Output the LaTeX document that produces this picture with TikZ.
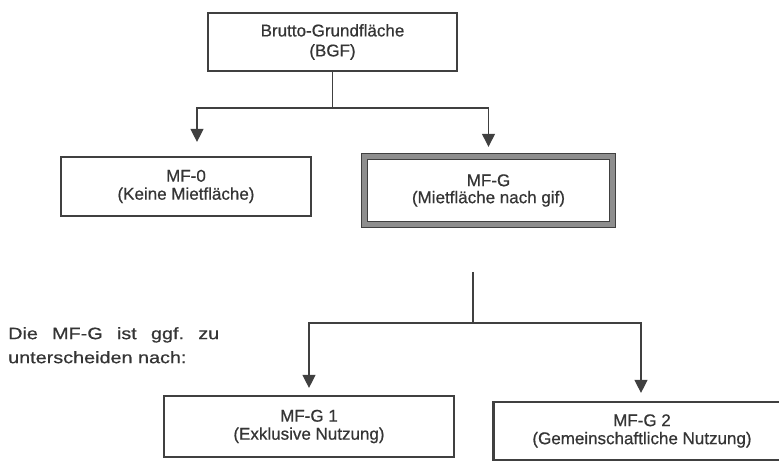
\documentclass[tikz,border=0pt]{standalone}
\usepackage{fontspec}
\setmainfont{Liberation Sans}[FakeBold=0.6]
\newfontfamily\sidefont{Liberation Sans}[FakeStretch=1.2, FakeBold=0.6]
\usetikzlibrary{arrows.meta}
\definecolor{ink}{HTML}{353535}
\definecolor{ln}{HTML}{404040}
\definecolor{band}{HTML}{8E8E8E}
\tikzset{
  bx/.style={draw=ln, line width=2.2pt, inner sep=0pt, align=center, text=ink, font=\fontsize{17}{18}\selectfont},
  conn/.style={draw=ln, line width=1.3pt},
  arr/.style={conn, -{Triangle[width=13pt,length=13pt]}},
}
\begin{document}
\begin{tikzpicture}[x=1pt,y=-1pt]
\useasboundingbox (0,0) rectangle (779,462);
\fill[white] (0,0) rectangle (779,462);
\clip (0,0) rectangle (779,462);

\node[bx, minimum width=249, minimum height=58] (bgf) at (332.5,42)
  {Brutto-Grundfläche\\[2pt](BGF)};
\node[bx, minimum width=250, minimum height=59] (mf0) at (186,186.5)
  {MF-0\\[0pt](Keine Mietfläche)};
\node[bx, line width=1.4pt, double=band, double distance=5pt, minimum width=248, minimum height=68] (mfg) at (488.5,190.5)
  {MF-G\\[-1pt](Mietfläche nach gif)};
\node[bx, minimum width=290, minimum height=61] (g1) at (309,426.5)
  {MF-G 1\\[0pt](Exklusive Nutzung)};
\node[bx, minimum width=297, minimum height=58] (g2) at (642,431)
  {MF-G 2\\[0pt](Gemeinschaftliche Nutzung)};

\node[anchor=north west, text width=211pt, align=left, inner sep=0pt, text=ink,
      font={\sidefont\fontsize{16.5}{24}\selectfont}] (side) at (8,327)
  {Die\hfill MF-G\hfill ist\hfill ggf.\hfill zu\\unterscheiden nach:};

% connectors from BGF
\coordinate (j1) at (332.5,108);
\draw[conn] (bgf.south) -- (j1);
\draw[arr, shorten >=14pt] (j1) -| ([xshift=11pt]mf0.north);
\draw[arr, shorten >=9pt] (j1) -| (mfg.north);

% connectors to MF-G 1 / MF-G 2
\coordinate (m0) at (473,272);
\coordinate (m1) at (473,323);
\coordinate (h2) at (641,323);
\draw[conn] (m0) -- (m1);
\draw[arr, shorten >=7pt] (m1) -| (g1.north);
\draw[arr, shorten >=8pt] (m1) -- (h2) -- (h2 |- g2.north);
\end{tikzpicture}
\end{document}
